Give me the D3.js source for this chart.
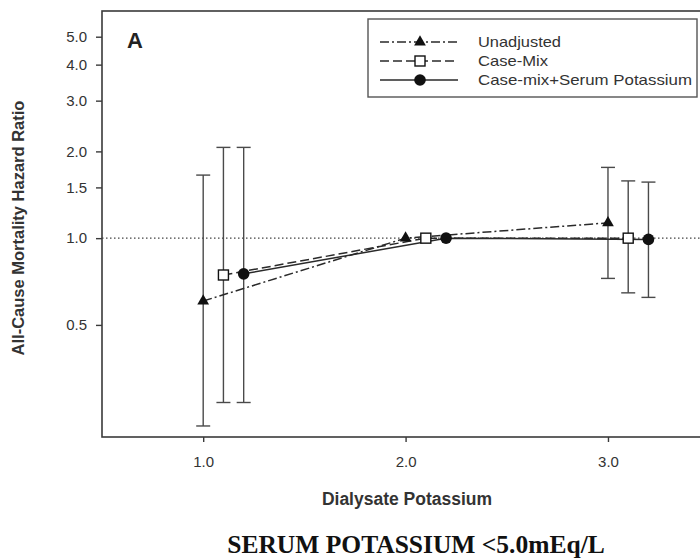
<!DOCTYPE html>
<html><head><meta charset="utf-8">
<script src="https://cdn.jsdelivr.net/npm/d3@7"></script>
<style>body{margin:0;background:#fff;}svg{display:block;}</style>
</head><body>
<svg id="chart" width="700" height="559"></svg>
<script>
const seriesNames = ["Unadjusted", "Case-Mix", "Case-mix+Serum Potassium"];
const xUnadj = [1.0, 2.0, 3.0];
const xCaseMix = [1.1, 2.1, 3.1];
const xFull = [1.2, 2.2, 3.2];
const hrUnadj = [0.605, 1.0, 1.13];
const loUnadj = [0.223, null, 0.725];
const hiUnadj = [1.655, null, 1.76];
const hrCaseMix = [0.745, 1.0, 1.0];
const loCaseMix = [0.269, null, 0.646];
const hiCaseMix = [2.065, null, 1.58];
const hrFull = [0.752, 1.0, 0.99];
const loFull = [0.269, null, 0.623];
const hiFull = [2.065, null, 1.565];
const yTicks = [0.5, 1.0, 1.5, 2.0, 3.0, 4.0, 5.0];
const xTicks = [1.0, 2.0, 3.0];

const svg = d3.select("#chart");
const L = 102, T = 11, R = 712, B = 437;
const x = d3.scaleLinear().domain([0.5, 3.514]).range([L, R]);
const y = d3.scaleLog().domain([0.2042, 6.14]).range([B, T]);
const ink = "#2a2a2a";
const sans = "Liberation Sans, Arial, sans-serif";

// frame
svg.append("rect").attr("x", L).attr("y", T).attr("width", R - L).attr("height", B - T)
  .attr("fill", "none").attr("stroke", "#3a3a3a").attr("stroke-width", 1.6);

// axes
const yAxis = svg.append("g").attr("transform", `translate(${L},0)`)
  .call(d3.axisLeft(y).tickValues(yTicks).tickFormat(d3.format(".1f")).tickSize(6).tickPadding(9));
const xAxis = svg.append("g").attr("transform", `translate(0,${B})`)
  .call(d3.axisBottom(x).tickValues(xTicks).tickFormat(d3.format(".1f")).tickSize(5).tickPadding(14));
[yAxis, xAxis].forEach(a => {
  a.select(".domain").remove();
  a.selectAll("line").attr("stroke", "#3a3a3a").attr("stroke-width", 1.4);
  a.selectAll("text").attr("font-family", sans).attr("font-size", 15).attr("fill", "#333");
});

// reference line
svg.append("line").attr("x1", L).attr("x2", R).attr("y1", y(1)).attr("y2", y(1))
  .attr("stroke", "#444").attr("stroke-width", 1.3).attr("stroke-dasharray", "1.5,2.5");

const series = [
  {name: seriesNames[0], xs: xUnadj, hr: hrUnadj, lo: loUnadj, hi: hiUnadj, dash: "9,3,2,3", marker: "tri", tl: 83},
  {name: seriesNames[1], xs: xCaseMix, hr: hrCaseMix, lo: loCaseMix, hi: hiCaseMix, dash: "9,4", marker: "sq", tl: 70},
  {name: seriesNames[2], xs: xFull, hr: hrFull, lo: loFull, hi: hiFull, dash: null, marker: "circ", tl: 214}
];

// error bars
series.forEach(s => {
  s.xs.forEach((xv, i) => {
    if (s.lo[i] == null) return;
    const g = svg.append("g").attr("stroke", "#4a4a4a").attr("stroke-width", 1.4);
    g.append("line").attr("x1", x(xv)).attr("x2", x(xv)).attr("y1", y(s.lo[i])).attr("y2", y(s.hi[i]));
    [s.lo[i], s.hi[i]].forEach(v => g.append("line").attr("x1", x(xv) - 7).attr("x2", x(xv) + 7)
      .attr("y1", y(v)).attr("y2", y(v)));
  });
});

// lines
const line = d3.line().x(d => x(d[0])).y(d => y(d[1]));
series.forEach(s => {
  svg.append("path").attr("d", line(s.xs.map((xv, i) => [xv, s.hr[i]])))
    .attr("fill", "none").attr("stroke", ink).attr("stroke-width", 1.5)
    .attr("stroke-dasharray", s.dash);
});

function drawMarker(g, type, cx, cy) {
  if (type === "tri") {
    g.append("path").attr("d", d3.symbol(d3.symbolTriangle, 60)()).attr("transform", `translate(${cx},${cy})`)
      .attr("fill", "#111");
  } else if (type === "sq") {
    g.append("rect").attr("x", cx - 5).attr("y", cy - 5).attr("width", 10).attr("height", 10)
      .attr("fill", "#fff").attr("stroke", "#111").attr("stroke-width", 1.4);
  } else {
    g.append("circle").attr("cx", cx).attr("cy", cy).attr("r", 5.8).attr("fill", "#111");
  }
}
series.forEach(s => {
  s.xs.forEach((xv, i) => drawMarker(svg, s.marker, x(xv), y(s.hr[i])));
});

// panel letter
svg.append("text").attr("x", 127).attr("y", 48).text("A")
  .attr("font-family", sans).attr("font-weight", "bold")
  .attr("font-size", 22).attr("fill", "#222");

// legend
const lg = svg.append("g");
lg.append("rect").attr("x", 368).attr("y", 19).attr("width", 329).attr("height", 78)
  .attr("fill", "#fff").attr("stroke", "#555").attr("stroke-width", 1.4);
const rowsY = [42, 61, 80];
series.forEach((s, i) => {
  lg.append("line").attr("x1", 380).attr("x2", 458).attr("y1", rowsY[i]).attr("y2", rowsY[i])
    .attr("stroke", ink).attr("stroke-width", 1.5).attr("stroke-dasharray", s.dash);
  drawMarker(lg, s.marker, 420, rowsY[i]);
  lg.append("text").attr("x", 478).attr("y", rowsY[i] + 5).text(s.name)
    .attr("textLength", s.tl).attr("lengthAdjust", "spacingAndGlyphs")
    .attr("font-family", sans).attr("font-size", 14.5).attr("fill", "#333");
});

// axis titles
svg.append("text").attr("transform", "translate(24,228) rotate(-90)").attr("text-anchor", "middle")
  .text("All-Cause Mortality Hazard Ratio")
  .attr("font-family", sans).attr("font-weight", "bold")
  .attr("font-size", 16.5).attr("fill", "#333");
svg.append("text").attr("x", 407).attr("y", 505).attr("text-anchor", "middle")
  .text("Dialysate Potassium")
  .attr("font-family", sans).attr("font-weight", "bold")
  .attr("font-size", 17.5).attr("fill", "#333");
svg.append("text").attr("x", 416).attr("y", 553).attr("text-anchor", "middle")
  .text("SERUM POTASSIUM <5.0mEq/L")
  .attr("font-family", "Liberation Serif, Times New Roman, serif").attr("font-weight", "bold")
  .attr("font-size", 25.5).attr("fill", "#111");
</script>
</body></html>
